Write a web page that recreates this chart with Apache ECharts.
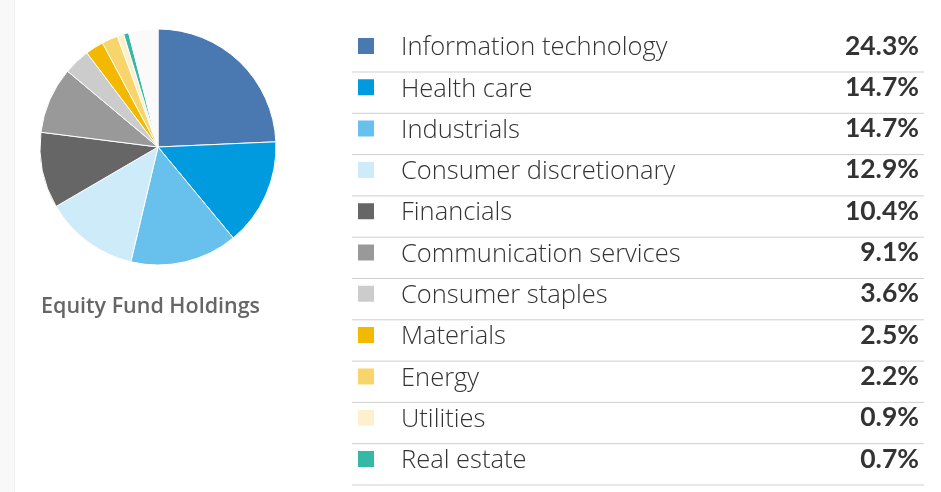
<!DOCTYPE html>
<html>
<head>
<meta charset="utf-8">
<script src="https://cdn.jsdelivr.net/npm/echarts@6/dist/echarts.min.js"></script>
<style>
  html, body { margin: 0; padding: 0; background: #fff; }
  #chart { width: 941px; height: 492px; }
</style>
</head>
<body>
<div id="chart"></div>
<script>
"use strict";

//
// Data
//
const sectors = [
  "Information technology", "Health care", "Industrials",
  "Consumer discretionary", "Financials", "Communication services",
  "Consumer staples", "Materials", "Energy", "Utilities", "Real estate",
];
const weights = [24.3, 14.7, 14.7, 12.9, 10.4, 9.1, 3.6, 2.5, 2.2, 0.9, 0.7];
const sector_colors = [
  "#4a79b2", "#009bde", "#67c1ec", "#cdebf8", "#666666", "#999999",
  "#cccccc", "#f2b900", "#f7d56b", "#fdf0cc", "#35b9a6",
];
// the rest of the fund (not listed) shows as a blank slice
const other_name = "Other";
const other_weight = 4.0;
const other_color = "#fafafa";

//
// Chart
//
const chart = echarts.init(document.getElementById("chart"));

const pie_data = sectors.map((name, i) => ({
  name: name,
  value: weights[i],
  itemStyle: { color: sector_colors[i] },
}));
pie_data.push({ name: other_name, value: other_weight, itemStyle: { color: other_color } });

const row_top = 72;
const row_step = 41.3;
const separators = sectors.map((_, i) => ({
  type: "line",
  silent: true,
  shape: { x1: 352, y1: row_top + i * row_step, x2: 924, y2: row_top + i * row_step },
  style: { stroke: "#cfcfcf", lineWidth: 1 },
}));

chart.setOption({
  animation: false,
  backgroundColor: "#ffffff",
  textStyle: { fontFamily: "'Open Sans', Lato, sans-serif" },
  title: {
    text: "Equity Fund Holdings",
    left: 36,
    top: 291,
    textStyle: { fontSize: 21.5, fontWeight: 600, color: "#666666", fontFamily: "'Open Sans'" },
  },
  legend: {
    orient: "vertical",
    left: 356,
    top: 31,
    padding: 0,
    itemWidth: 18,
    itemHeight: 18,
    itemGap: 11.3,
    icon: "rect",
    selectedMode: false,
    data: sectors,
    formatter: (name) => {
      const i = sectors.indexOf(name);
      return `{n|${name}}{v|${weights[i].toFixed(1)}%}`;
    },
    textStyle: {
      padding: [0, 0, 0, 21],
      rich: {
        n: { fontFamily: "'Open Sans'", fontSize: 25.5, fontWeight: 300, color: "#333333", width: 420, height: 26, lineHeight: 26, padding: [4, 0, 0, 0] },
        v: { fontFamily: "Lato", fontSize: 26.5, fontWeight: 700, color: "#333333", width: 98, align: "right", height: 30, lineHeight: 30 },
      },
    },
  },
  graphic: [
    {
      type: "rect",
      silent: true,
      shape: { x: 0, y: 0, width: 14, height: 492 },
      style: { fill: "#f8f8f8" },
    },
    {
      type: "line",
      silent: true,
      shape: { x1: 14.5, y1: 0, x2: 14.5, y2: 492 },
      style: { stroke: "#efefef", lineWidth: 1 },
    },
    ...separators,
  ],
  series: [
    {
      type: "pie",
      center: [158, 147],
      radius: 118,
      startAngle: 90,
      clockwise: true,
      silent: true,
      label: { show: false },
      labelLine: { show: false },
      itemStyle: { borderColor: "#ffffff", borderWidth: 1 },
      data: pie_data,
    },
  ],
});
</script>
</body>
</html>
